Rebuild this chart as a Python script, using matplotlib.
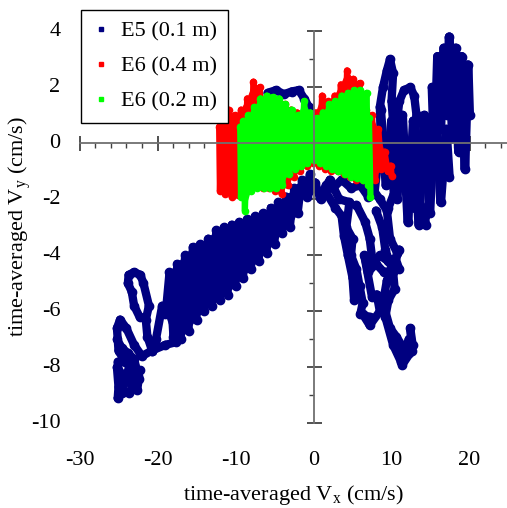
import matplotlib
matplotlib.use("Agg")
import matplotlib.pyplot as plt
from matplotlib.ticker import MultipleLocator
from matplotlib.lines import Line2D
from matplotlib.collections import LineCollection

plt.rcParams['font.family'] = ['Liberation Serif', 'DejaVu Serif']
plt.rcParams['mathtext.fontset'] = 'custom'
plt.rcParams['mathtext.rm'] = 'Liberation Serif'

# ---------------- data (cm/s) ----------------
series_labels = ["E5 (0.1 m)", "E6 (0.4 m)", "E6 (0.2 m)"]
series_colors = ["#000080", "#FF0000", "#00FF00"]

# E5 (0.1 m) trajectory strands
e5_sw_band_x = [-0.5, -1.0, -1.5, -2.0, -2.5, -3.0, -3.5, -4.0, -4.5, -5.0, -5.5, -6.0, -6.5, -7.0, -7.5,
                -8.0, -8.5, -9.0, -9.5, -10.0, -10.5, -11.0, -11.5, -12.0, -12.5, -13.0, -13.5, -14.0,
                -14.5, -15.0, -15.5, -16.0, -16.5, -17.0, -17.5, -18.0, -18.5, -19.0]
e5_sw_band_y = [-1.1, -1.8, -1.3, -2.5, -1.6, -3.0, -1.9, -3.2, -2.1, -3.6, -2.3, -3.9, -2.5, -4.2, -2.6,
                -4.5, -2.7, -4.8, -2.8, -5.1, -2.9, -5.4, -3.0, -5.6, -3.1, -5.8, -3.4, -6.0,
                -3.6, -6.3, -3.7, -6.7, -4.0, -7.0, -4.3, -6.9, -4.6, -6.1]
e5_sw_loop_x = [-19.4, -20.2, -20.7, -21.3, -21.5, -21.1, -21.8, -22.2, -23.0, -23.7, -23.8, -23.3, -23.0, -22.3]
e5_sw_loop_y = [-5.8, -7.0, -7.4, -6.9, -6.3, -5.8, -5.0, -4.7, -4.6, -4.7, -5.0, -5.3, -5.8, -6.2]
e5_sw_tail_x = [-17.6, -19.0, -20.7, -22.0, -23.0, -24.0, -24.8, -25.2, -25.0, -24.2, -23.0, -22.4,
                -22.6, -23.4, -24.4, -25.2, -25.0, -25.1, -24.6, -24.2, -23.6, -23.0, -22.2]
e5_sw_tail_y = [-7.1, -7.2, -7.4, -7.6, -7.2, -6.6, -6.3, -6.6, -7.4, -7.8, -7.9, -8.4,
                -8.8, -8.6, -8.3, -8.0, -8.7, -9.1, -8.9, -8.4, -8.0, -8.5, -8.1]
e5_sw_tail2_x = [-25.2, -24.6, -23.8, -23.0, -22.5, -23.6, -24.8, -25.1]
e5_sw_tail2_y = [-7.0, -7.3, -7.5, -7.7, -8.3, -8.9, -8.8, -7.8]
e5_center_x = [-3.0, -1.8, -0.8, 0.2, 0.9, 1.6, 2.5, 3.6, 4.8, 6.0, 7.0]
e5_center_y = [-2.0, -1.6, -1.9, -1.4, -2.0, -1.5, -1.6, -1.3, -1.6, -1.5, -1.9]
e5_top_x = [-5.9, -4.8, -3.8, -2.8, -1.9, -1.2, -0.6, -0.2]
e5_top_y = [1.8, 1.9, 1.75, 1.85, 1.9, 1.6, 1.3, 0.9]
e5_se_left_x = [0.8, 2.1, 3.3, 4.6, 4.2, 5.0, 4.8, 5.5, 5.9, 6.3, 6.0, 7.2]
e5_se_left_y = [-1.9, -1.3, -2.0, -2.1, -3.0, -3.4, -4.0, -4.5, -5.1, -5.7, -6.1, -6.2]
e5_se_left2_x = [1.5, 2.8, 3.6, 3.9, 4.4, 5.0, 5.2]
e5_se_left2_y = [-1.7, -2.3, -2.6, -3.3, -4.0, -4.8, -5.6]
e5_se_right_x = [7.5, 8.5, 9.4, 9.8, 10.7, 11.0, 10.2, 9.4, 8.9, 9.8, 10.6, 11.5, 11.4, 12.6, 12.4, 12.7, 12.3, 11.0, 10.2]
e5_se_right_y = [-1.6, -2.0, -2.4, -3.4, -3.9, -3.8, -4.4, -4.9, -5.7, -6.6, -6.9, -7.3, -7.9, -7.4, -6.6, -7.2, -7.5, -7.5, -7.0]
e5_se_right2_x = [8.0, 8.8, 9.2, 10.2, 10.4, 9.6, 9.2, 10.2, 11.2, 12.2]
e5_se_right2_y = [-2.4, -3.0, -3.8, -4.6, -5.2, -5.6, -6.2, -7.2, -7.8, -7.0]
e5_se_mid_x = [5.5, 6.6, 7.2, 7.6, 8.5, 9.5, 10.5, 11.0, 9.0, 8.0, 7.0, 6.5, 7.5, 8.1, 8.5, 7.2, 6.3]
e5_se_mid_y = [-2.2, -2.8, -3.4, -4.3, -4.0, -4.2, -4.1, -4.5, -4.6, -4.3, -4.6, -4.0, -5.5, -5.4, -6.0, -6.5, -6.1]
e5_ne_spike_x = [7.8, 8.3, 8.6, 8.5, 8.9, 9.4, 9.8, 10.2, 10.0, 10.3, 10.0, 10.3, 9.6]
e5_ne_spike_y = [-1.8, -0.6, 0.4, 1.3, 2.0, 2.6, 3.0, 2.5, 1.5, 0.4, -0.8, -1.8, -2.3]
e5_ne_hump_x = [10.6, 11.0, 11.6, 12.4, 12.9, 13.2, 13.0, 12.6, 12.2, 13.0, 13.6, 14.3, 14.4]
e5_ne_hump_y = [0.6, 1.5, 1.9, 2.0, 1.7, 1.0, 0.1, -1.0, -1.8, -2.3, -2.2, -2.6, -2.9]
e5_ne_core_x = [8.6, 9.3, 10.0, 10.7, 11.4, 12.1, 12.8, 13.5, 14.2, 14.9, 15.6, 16.3, 17.0, 17.4]
e5_ne_core_y = [1.2, -1.5, 0.8, -2.0, 1.0, -2.8, 0.8, -2.9, 1.0, -2.5, 1.6, -2.1, 0.5, -1.2]
e5_ne_lobe_x = [15.2, 15.5, 15.9, 16.3, 16.7, 17.1, 17.4, 17.8, 18.2, 18.6, 19.0, 19.4, 19.8, 20.0]
e5_ne_lobe_y = [2.0, -0.5, 3.1, 0.5, 3.4, 1.0, 3.8, 0.2, 3.4, -0.3, 3.1, -0.9, 2.8, 1.0]

# E6 (0.4 m) trajectory samples (alternating upper / lower excursions)
e6_04_x = [-12.1, -12.0, -11.7, -11.3, -10.9, -10.5, -10.1, -9.7, -9.3, -8.9, -8.5, -8.1, -7.7, -7.3,
           -6.9, -6.5, -6.1, -5.7, -5.3, -4.9, -4.5, -4.1, -3.7, -3.3, -2.9, -2.5, -2.1, -1.7, -1.3, -0.9,
           -0.5, -0.1, 0.3, 0.7, 1.1, 1.5, 1.9, 2.3, 2.7, 3.1, 3.5, 3.9, 4.3, 4.7, 5.1, 5.5, 5.9, 6.3,
           6.7, 7.1, 7.5, 7.9, 8.3, 8.7, 9.1, 9.5, 9.9, 10.0]
e6_04_y = [0.6, -1.7, 1.25, -1.8, 1.2, -1.9, 1.0, -1.85, 1.2, -1.6, 1.6, -1.5, 2.2, -1.5,
           2.0, -1.6, 1.5, -1.6, 1.6, -1.7, 1.5, -1.8, 1.4, -1.5, 1.2, -1.2, 1.1, -1.0, 1.0, -0.8,
           0.9, -0.7, 1.1, -0.8, 1.7, -0.9, 1.5, -1.0, 1.7, -1.0, 2.1, -1.1, 2.6, -1.2, 2.3, -1.3, 2.15, -1.3,
           1.2, -1.2, 1.0, -1.3, 0.5, -0.9, -0.3, -1.0, -0.8, -1.15]

# E6 (0.2 m) trajectory samples (alternating upper / lower excursions)
e6_02_x = [-9.4, -9.3, -9.0, -8.8, -8.4, -8.0, -7.6, -7.2, -6.8, -6.4, -6.0, -5.6, -5.2, -4.8, -4.4,
           -4.0, -3.6, -3.2, -2.8, -2.4, -2.0, -1.6, -1.2, -0.8, -0.4, 0.0, 0.4, 0.8, 1.2, 1.6, 2.0,
           2.4, 2.8, 3.2, 3.6, 4.0, 4.4, 4.8, 5.2, 5.6, 6.0, 6.4, 6.8, 7.0, 7.1, 7.3]
e6_02_y = [0.6, -1.9, 0.8, -2.4, 1.0, -1.7, 1.3, -1.6, 1.6, -1.6, 1.7, -1.6, 1.65, -1.6, 1.6,
           -1.5, 1.4, -1.1, 1.2, -0.9, 1.0, -0.8, 1.5, -0.7, 1.1, -0.6, 0.9, -0.7, 1.1, -0.8, 1.4,
           -0.9, 1.5, -1.0, 1.7, -1.1, 1.8, -1.2, 1.9, -1.25, 1.9, -1.3, 1.8, -1.5, 0.9, -1.9]

x_ticks = [-30, -20, -10, 0, 10, 20]
y_ticks = [-10, -8, -6, -4, -2, 0, 2, 4]

# ---------------- figure ----------------
W, H = 507, 508
fig = plt.figure(figsize=(W / 100, H / 100), dpi=100)
ax = fig.add_axes([79.5 / W, (H - 423.3) / H, (507 - 79.5) / W, (423.3 - 31.3) / H])
ax.set_xlim(-30, 24.8)
ax.set_ylim(-10, 4)


def trajectory(xs, ys, color, lw, ms, z):
    pts = list(zip(xs, ys))
    segs = [[pts[i], pts[i + 1]] for i in range(len(pts) - 1)]
    lc = LineCollection(segs, colors=color, linewidths=lw, capstyle='round', joinstyle='round', zorder=z)
    ax.add_collection(lc)
    ax.plot(xs, ys, linestyle='none', marker='o', ms=ms, color=color, zorder=z)


def cloud(xs, ys, color, lw, ms, z):
    # area swept by an oscillating trajectory: upper excursions forward, lower ones back
    px = list(xs[0::2]) + list(xs[1::2])[::-1]
    py = list(ys[0::2]) + list(ys[1::2])[::-1]
    ax.fill(px, py, color=color, lw=0, zorder=z)
    trajectory(xs, ys, color, lw, ms, z)


cloud(e5_sw_band_x, e5_sw_band_y, series_colors[0], 5.5, 6, 2)
for xs, ys in [(e5_ne_core_x, e5_ne_core_y), (e5_ne_lobe_x, e5_ne_lobe_y)]:
    trajectory(xs, ys, series_colors[0], 6.5, 6, 2)
thin_blue = [
    (e5_sw_loop_x, e5_sw_loop_y),
    (e5_sw_tail_x, e5_sw_tail_y), (e5_sw_tail2_x, e5_sw_tail2_y),
    (e5_center_x, e5_center_y), (e5_top_x, e5_top_y),
    (e5_se_left_x, e5_se_left_y), (e5_se_left2_x, e5_se_left2_y),
    (e5_se_right_x, e5_se_right_y), (e5_se_right2_x, e5_se_right2_y), (e5_se_mid_x, e5_se_mid_y),
    (e5_ne_spike_x, e5_ne_spike_y), (e5_ne_hump_x, e5_ne_hump_y),
]
for xs, ys in thin_blue:
    trajectory(xs, ys, series_colors[0], 6.0, 6, 2)

cloud(e6_04_x, e6_04_y, series_colors[1], 4.5, 4.5, 3)
cloud(e6_02_x, e6_02_y, series_colors[2], 4.5, 4.5, 4)

# axes through the origin
for s in ['top', 'right']:
    ax.spines[s].set_visible(False)
ax.spines['left'].set_position(('data', 0))
ax.spines['bottom'].set_position(('data', 0))
for s in ['left', 'bottom']:
    ax.spines[s].set_color('#707070')
    ax.spines[s].set_linewidth(1.3)
    ax.spines[s].set_zorder(5)

ax.xaxis.set_major_locator(MultipleLocator(10))
ax.xaxis.set_minor_locator(MultipleLocator(2))
ax.yaxis.set_major_locator(MultipleLocator(2))
ax.yaxis.set_minor_locator(MultipleLocator(1))
ax.tick_params(which='major', direction='inout', length=10.8, width=1.1, color='#202020')
ax.tick_params(which='minor', direction='out', length=3.6, width=1.0, color='#404040')
ax.tick_params(labelbottom=False, labelleft=False)

for v in x_ticks:
    ax.text(v, -0.094, str(v), transform=ax.get_xaxis_transform(), ha='center', va='center',
            fontsize=16)
for v in y_ticks:
    ax.text(-0.045, v, str(v), transform=ax.get_yaxis_transform(), ha='right', va='center',
            fontsize=16)

fig.text(293 / W, 1 - 495 / H, r"time-averaged V$_\mathregular{x}$ (cm/s)", ha='center', va='center',
         fontsize=16)
fig.text(20 / W, 1 - 227 / H, r"time-averaged V$_\mathregular{y}$ (cm/s)", ha='center', va='center',
         rotation=90, fontsize=16)

handles = [Line2D([], [], color=c, marker='s', ms=3.5, linestyle='none') for c in series_colors]
leg = fig.legend(handles, series_labels, loc='upper left', bbox_to_anchor=(81 / W, 1 - 10 / H),
                 borderaxespad=0, fontsize=16, frameon=True, fancybox=False, framealpha=1,
                 edgecolor='black', handlelength=0.8, handletextpad=0.5, labelspacing=0.65,
                 borderpad=0.5)
leg.get_frame().set_linewidth(1.0)

fig.savefig("out.png", dpi=100)
